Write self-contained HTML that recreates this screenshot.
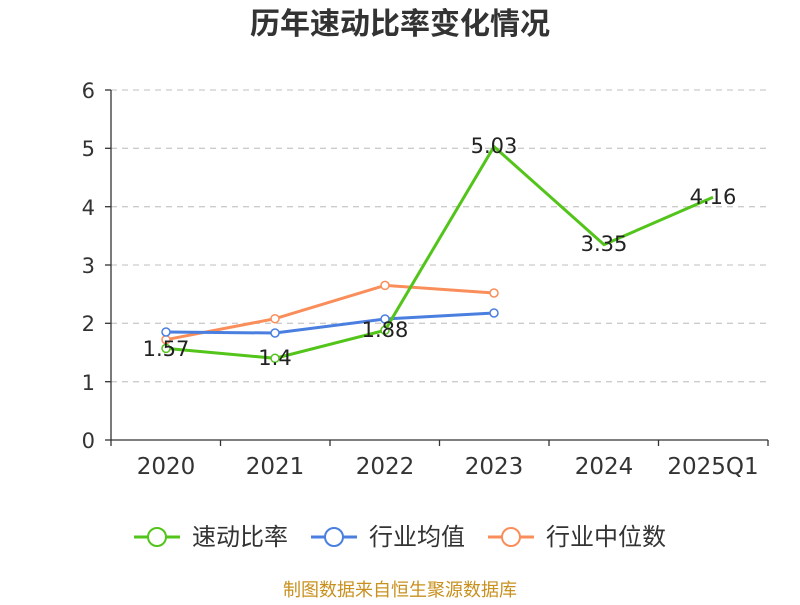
<!DOCTYPE html>
<html><head><meta charset="utf-8"><style>
body{margin:0;background:#fff;}
svg text{font-family:"DejaVu Sans","Noto Sans CJK SC",sans-serif;}
</style></head><body>
<svg width="800" height="600" xmlns="http://www.w3.org/2000/svg">
<text x="400" y="34" text-anchor="middle" font-size="30" font-weight="bold" fill="#333" style="font-family:'Noto Sans CJK SC',sans-serif">历年速动比率变化情况</text>
<g stroke="#ccc" stroke-dasharray="6,5" stroke-width="1.3">
<line x1="111" x2="768" y1="90" y2="90"/><line x1="111" x2="768" y1="148.3" y2="148.3"/>
<line x1="111" x2="768" y1="206.7" y2="206.7"/><line x1="111" x2="768" y1="265" y2="265"/>
<line x1="111" x2="768" y1="323.3" y2="323.3"/><line x1="111" x2="768" y1="381.7" y2="381.7"/>
</g>
<g stroke="#333" stroke-width="1.3">
<line x1="111" x2="111" y1="90" y2="440"/><line x1="111" x2="768" y1="440" y2="440"/>
<line x1="105" x2="111" y1="90" y2="90"/><line x1="105" x2="111" y1="148.3" y2="148.3"/><line x1="105" x2="111" y1="206.7" y2="206.7"/><line x1="105" x2="111" y1="265" y2="265"/><line x1="105" x2="111" y1="323.3" y2="323.3"/><line x1="105" x2="111" y1="381.7" y2="381.7"/><line x1="105" x2="111" y1="440" y2="440"/>
<line x1="111" x2="111" y1="440" y2="446"/><line x1="220.5" x2="220.5" y1="440" y2="446"/><line x1="330" x2="330" y1="440" y2="446"/><line x1="439.5" x2="439.5" y1="440" y2="446"/><line x1="549" x2="549" y1="440" y2="446"/><line x1="658.5" x2="658.5" y1="440" y2="446"/><line x1="768" x2="768" y1="440" y2="446"/>
</g>
<g font-size="21" fill="#333" text-anchor="end">
<text x="95" y="98">6</text><text x="95" y="156">5</text><text x="95" y="215">4</text><text x="95" y="273">3</text><text x="95" y="331">2</text><text x="95" y="390">1</text><text x="95" y="448">0</text>
</g>
<g font-size="23" fill="#333" text-anchor="middle">
<text x="166" y="474">2020</text><text x="275" y="474">2021</text><text x="385" y="474">2022</text><text x="494" y="474">2023</text><text x="604" y="474">2024</text><text x="713" y="474">2025Q1</text>
</g>
<g fill="none" stroke-width="3">
<polyline stroke="#f98e5b" points="166,339.7 275,318.7 385,285.4 494,293"/>
<polyline stroke="#4a7fe0" points="166,332 275,333 385,319 494,313"/>
<polyline stroke="#52c41a" points="166,348.4 275,358.3 385,330.3 494,146.6 604,244.6 713,197.3"/>
</g>
<g fill="#fff" stroke-width="1.5">
<circle cx="166" cy="339.7" r="4" stroke="#f98e5b"/><circle cx="275" cy="318.7" r="4" stroke="#f98e5b"/><circle cx="385" cy="285.4" r="4" stroke="#f98e5b"/><circle cx="494" cy="293" r="4" stroke="#f98e5b"/>
<circle cx="166" cy="332" r="4" stroke="#4a7fe0"/><circle cx="275" cy="333" r="4" stroke="#4a7fe0"/><circle cx="385" cy="319" r="4" stroke="#4a7fe0"/><circle cx="494" cy="313" r="4" stroke="#4a7fe0"/>
<circle cx="166" cy="348.4" r="4" stroke="#52c41a"/><circle cx="275" cy="358.3" r="4" stroke="#52c41a"/><circle cx="385" cy="330.3" r="4" stroke="#52c41a"/>
</g>
<g font-size="21" fill="#222" text-anchor="middle">
<text x="166" y="356">1.57</text><text x="275" y="365">1.4</text><text x="385" y="337">1.88</text><text x="494" y="153">5.03</text><text x="604" y="251">3.35</text><text x="713" y="204">4.16</text>
</g>
<g stroke-width="3" fill="#fff">
<line x1="134" x2="180" y1="537" y2="537" stroke="#52c41a"/><circle cx="157" cy="537" r="9" stroke="#52c41a" stroke-width="2"/>
<line x1="311" x2="357" y1="537" y2="537" stroke="#4a7fe0"/><circle cx="334" cy="537" r="9" stroke="#4a7fe0" stroke-width="2"/>
<line x1="488" x2="534" y1="537" y2="537" stroke="#f98e5b"/><circle cx="511" cy="537" r="9" stroke="#f98e5b" stroke-width="2"/>
</g>
<g font-size="24" fill="#333">
<text x="192" y="545">速动比率</text><text x="369" y="545">行业均值</text><text x="546" y="545">行业中位数</text>
</g>
<text x="400" y="596" text-anchor="middle" font-size="18" fill="#c8901e">制图数据来自恒生聚源数据库</text>
</svg>
</body></html>
